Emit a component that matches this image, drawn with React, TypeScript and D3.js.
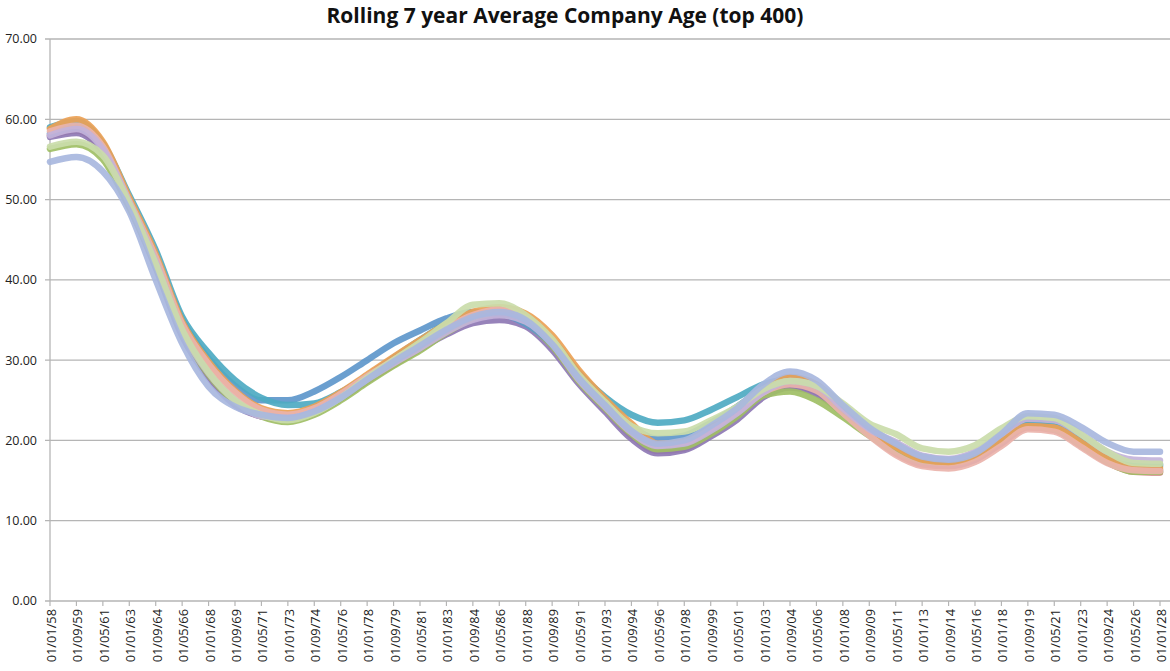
import React, { useEffect } from 'react';
import * as d3 from 'd3';

// category labels (every 20 months)
const tickLabels = [
  '01/01/58', '01/09/59', '01/05/61', '01/01/63', '01/09/64', '01/05/66', '01/01/68', '01/09/69',
  '01/05/71', '01/01/73', '01/09/74', '01/05/76', '01/01/78', '01/09/79', '01/05/81', '01/01/83',
  '01/09/84', '01/05/86', '01/01/88', '01/09/89', '01/05/91', '01/01/93', '01/09/94', '01/05/96',
  '01/01/98', '01/09/99', '01/05/01', '01/01/03', '01/09/04', '01/05/06', '01/01/08', '01/09/09',
  '01/05/11', '01/01/13', '01/09/14', '01/05/16', '01/01/18', '01/09/19', '01/05/21', '01/01/23',
  '01/09/24', '01/05/26', '01/01/28'
];

const yTicks = [0, 10, 20, 30, 40, 50, 60, 70];

const redSeries = [58.0, 58.6, 56.0, 49.4, 42.0, 33.4, 28.0, 24.6, 23.0, 22.6, 23.4, 25.2, 27.4, 29.4, 31.4, 33.4, 35.0, 35.6, 34.6, 31.8, 27.4, 24.0, 20.6, 18.7, 19.0, 20.8, 23.0, 25.8, 26.8, 26.0, 23.4, 20.7, 18.4, 17.0, 16.8, 17.6, 19.6, 21.6, 21.3, 19.4, 17.3, 16.1, 16.0];
const purpleSeries = [57.8, 58.3, 55.8, 49.2, 41.5, 33.0, 27.8, 24.4, 23.0, 22.6, 23.4, 25.2, 27.4, 29.5, 31.4, 33.2, 34.6, 35.0, 34.2, 31.3, 27.1, 23.6, 20.2, 18.4, 18.8, 20.5, 22.6, 25.4, 26.6, 25.8, 23.4, 20.8, 18.8, 17.2, 16.9, 17.6, 19.7, 21.8, 21.6, 19.7, 17.6, 16.4, 16.3];
const greenSeries = [56.3, 56.9, 55.0, 49.0, 41.8, 33.5, 28.2, 24.8, 23.0, 22.3, 23.2, 25.0, 27.2, 29.3, 31.2, 33.4, 35.2, 35.8, 34.6, 31.8, 27.4, 24.0, 20.8, 18.9, 19.2, 20.8, 23.0, 25.6, 26.1, 25.0, 22.9, 20.6, 18.6, 17.4, 17.2, 17.9, 20.0, 21.8, 21.4, 19.4, 17.3, 16.1, 16.1];
const blueSeries = [58.2, 59.0, 56.5, 50.0, 43.0, 35.0, 30.2, 26.8, 25.0, 25.0, 26.1, 27.9, 30.0, 32.1, 33.7, 35.2, 36.0, 35.8, 34.5, 32.0, 28.0, 24.8, 21.8, 20.2, 20.6, 22.2, 24.2, 26.5, 27.8, 26.8, 24.0, 21.5, 19.6, 17.9, 17.6, 18.3, 20.4, 22.3, 22.1, 20.4, 18.3, 17.1, 17.0];
const tealSeries = [59.0, 59.8, 57.0, 50.5, 43.7, 35.4, 30.9, 27.5, 25.3, 24.4, 24.6, 26.0, 28.0, 30.3, 32.5, 34.5, 35.5, 35.8, 34.8, 32.6, 28.5, 25.4, 23.2, 22.2, 22.5, 23.8, 25.4, 27.0, 27.6, 26.5, 23.8, 21.3, 19.5, 17.8, 17.4, 18.1, 20.2, 22.2, 22.0, 20.3, 18.2, 16.9, 16.8];
const orangeSeries = [58.8, 60.0, 57.2, 50.2, 43.2, 34.8, 29.8, 26.2, 24.0, 23.4, 24.2, 26.0, 28.2, 30.4, 32.5, 34.5, 36.0, 36.6, 35.8, 33.1, 28.8, 25.2, 22.1, 19.6, 19.8, 21.5, 23.8, 26.4, 27.9, 27.0, 24.1, 21.2, 19.2, 17.6, 17.2, 17.9, 20.0, 21.8, 21.6, 19.8, 17.8, 16.6, 16.5];
const pinkSeries = [58.5, 59.2, 56.6, 49.8, 42.8, 34.5, 29.5, 26.0, 23.8, 23.2, 24.0, 25.8, 28.0, 30.0, 32.0, 34.0, 35.6, 36.3, 35.2, 32.3, 27.9, 24.6, 21.3, 19.4, 19.7, 21.4, 23.5, 26.0, 27.0, 26.2, 23.4, 20.6, 18.2, 16.8, 16.5, 17.3, 19.3, 21.4, 21.1, 19.2, 17.2, 16.3, 16.2];
const lavenderSeries = [58.0, 58.8, 56.3, 49.6, 42.2, 33.6, 28.4, 25.0, 23.0, 22.8, 23.6, 25.4, 27.6, 29.6, 31.5, 33.5, 35.0, 35.6, 34.8, 32.0, 27.6, 24.2, 21.0, 19.3, 19.6, 21.2, 23.4, 26.0, 27.4, 26.8, 24.0, 21.4, 19.8, 18.1, 17.7, 18.6, 20.8, 22.7, 22.5, 20.8, 18.6, 17.6, 17.5];
const lightGreenSeries = [56.6, 57.2, 55.5, 49.5, 42.0, 33.8, 28.5, 25.0, 23.2, 22.5, 23.4, 25.3, 27.8, 30.0, 32.2, 34.6, 36.9, 37.1, 35.6, 32.6, 28.2, 24.8, 21.8, 20.9, 21.1, 22.5, 24.2, 26.4, 27.4, 26.8, 24.6, 22.1, 20.8, 19.0, 18.6, 19.4, 21.5, 23.0, 22.8, 20.8, 18.6, 17.2, 17.1];
const periwinkleSeries = [54.7, 55.3, 53.5, 48.5, 40.0, 32.1, 26.7, 24.2, 23.2, 22.8, 23.6, 25.3, 27.6, 29.8, 31.8, 33.8, 35.4, 36.0, 35.0, 32.0, 27.8, 24.4, 21.2, 19.6, 20.0, 21.8, 24.0, 27.0, 28.6, 27.5, 24.4, 21.6, 19.6, 18.0, 17.6, 18.4, 20.8, 23.4, 23.2, 21.7, 19.7, 18.6, 18.6];

const series = [
  { name: 'red', color: '#c97370', values: redSeries },
  { name: 'purple', color: '#8e78b4', values: purpleSeries },
  { name: 'green', color: '#9fbf65', values: greenSeries },
  { name: 'blue', color: '#5e97cb', values: blueSeries },
  { name: 'teal', color: '#4eaac2', values: tealSeries },
  { name: 'orange', color: '#eba155', values: orangeSeries },
  { name: 'pink', color: '#eab3ab', values: pinkSeries },
  { name: 'lavender', color: '#c3b3da', values: lavenderSeries },
  { name: 'lightGreen', color: '#cadcaa', values: lightGreenSeries },
  { name: 'periwinkle', color: '#a8b7de', values: periwinkleSeries }
];

const width = 1170;
const height = 671;
const margin = { top: 39, left: 50, right: 10, bottom: 70 };
const font = '"Open Sans", "Liberation Sans", sans-serif';

const App: React.FC = () => {
  useEffect(() => {
    document.body.style.margin = '0';
  }, []);

  const x = d3.scaleLinear()
    .domain([0, tickLabels.length - 1])
    .range([margin.left, width - margin.right]);

  const y = d3.scaleLinear()
    .domain([0, 70])
    .range([height - margin.bottom, margin.top]);

  const line = d3.line<number>()
    .x((d, i) => x(i))
    .y(d => y(d))
    .curve(d3.curveMonotoneX);

  const axisY = y(0);

  return (
    <svg width={width} height={height} style={{ display: 'block', background: 'white' }}>
      <text
        x={565}
        y={23}
        textAnchor="middle"
        fontFamily={font}
        fontWeight="bold"
        fontSize={21}
        fill="#111"
      >
        Rolling 7 year Average Company Age (top 400)
      </text>

      {/* grid lines */}
      {yTicks.map(t => (
        <g key={t}>
          <line x1={margin.left - 5} x2={width} y1={y(t)} y2={y(t)} stroke="#b5b5b5" strokeWidth={1.3} />
          <text
            x={37}
            y={y(t)}
            dy="0.35em"
            textAnchor="end"
            fontFamily={font}
            fontSize={12.5}
            fill="#222"
          >
            {t.toFixed(2)}
          </text>
        </g>
      ))}

      {/* y axis */}
      <line x1={margin.left} x2={margin.left} y1={y(70)} y2={axisY} stroke="#b5b5b5" strokeWidth={1.3} />

      {/* x ticks + labels */}
      {tickLabels.map((lab, i) => (
        <g key={lab + i}>
          <line x1={x(i)} x2={x(i)} y1={axisY} y2={axisY + 5} stroke="#b5b5b5" strokeWidth={1.2} />
          <text
            transform={`translate(${x(i) + 1.5},${axisY + 8}) rotate(-90)`}
            dy="0.35em"
            textAnchor="end"
            fontFamily={font}
            fontSize={12.8}
            fill="#222"
          >
            {lab}
          </text>
        </g>
      ))}

      {/* series */}
      {series.map(s => (
        <path
          key={s.name}
          d={line(s.values) || ''}
          fill="none"
          stroke={s.color}
          strokeWidth={6.5}
          strokeLinejoin="round"
          strokeLinecap="round"
          opacity={0.92}
        />
      ))}
    </svg>
  );
};

export default App;
